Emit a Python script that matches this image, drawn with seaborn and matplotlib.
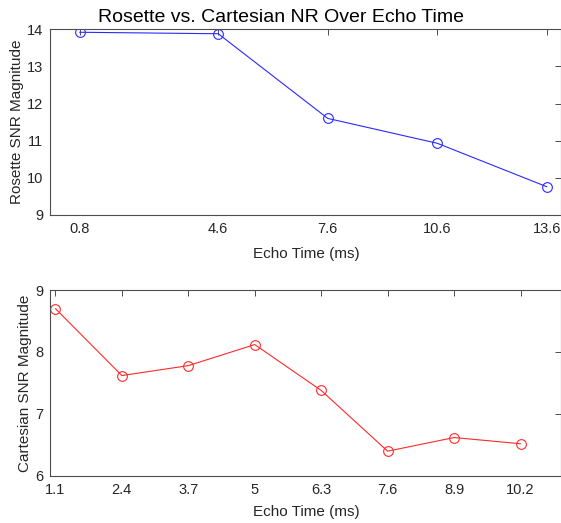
import matplotlib
matplotlib.use("Agg")
import matplotlib.pyplot as plt
import seaborn as sns
import pandas as pd

# Rosette acquisition
rosette_te = [0.8, 4.6, 7.6, 10.6, 13.6]
rosette_snr = [13.92, 13.88, 11.60, 10.93, 9.76]

# Cartesian acquisition
cartesian_te = [1.1, 2.4, 3.7, 5.0, 6.3, 7.6, 8.9, 10.2]
cartesian_snr = [8.70, 7.62, 7.78, 8.12, 7.38, 6.40, 6.62, 6.52]

rosette_ticks = ["0.8", "4.6", "7.6", "10.6", "13.6"]
cartesian_ticks = ["1.1", "2.4", "3.7", "5", "6.3", "7.6", "8.9", "10.2"]

sns.set_style("white")
plt.rcParams["font.family"] = ["Liberation Sans", "DejaVu Sans"]

edge = "#4d4d4d"
text_col = "#262626"

fig = plt.figure(figsize=(5.61, 5.23), dpi=100)
ax1 = fig.add_axes([0.0897, 0.589, 0.911, 0.355])
ax2 = fig.add_axes([0.0897, 0.0899, 0.911, 0.3556])

df_r = pd.DataFrame({"te": rosette_te, "snr": rosette_snr})
df_c = pd.DataFrame({"te": cartesian_te, "snr": cartesian_snr})

sns.lineplot(data=df_r, x="te", y="snr", ax=ax1, color="#2a2aff", lw=0.8,
             marker="o", markersize=7, markerfacecolor="none",
             markeredgecolor="#2a2aff", markeredgewidth=0.8)
sns.lineplot(data=df_c, x="te", y="snr", ax=ax2, color="#ff2a2a", lw=0.8,
             marker="o", markersize=7, markerfacecolor="none",
             markeredgecolor="#ff2a2a", markeredgewidth=0.8)

ax1.set_xlim(0, 14)
ax1.set_ylim(9, 14)
ax1.set_xticks(rosette_te)
ax1.set_xticklabels(rosette_ticks)
ax1.set_yticks([9, 10, 11, 12, 13, 14])

ax2.set_xlim(1, 11)
ax2.set_ylim(6, 9)
ax2.set_xticks(cartesian_te)
ax2.set_xticklabels(cartesian_ticks)
ax2.set_yticks([6, 7, 8, 9])

for ax, ylab, xpad in ((ax1, "Rosette SNR Magnitude", 8),
                       (ax2, "Cartesian SNR Magnitude", 6)):
    for s in ax.spines.values():
        s.set_color(edge)
        s.set_linewidth(0.8)
    ax.tick_params(direction="in", length=4, width=0.7, color=edge,
                   top=True, right=True, labelsize=10.5, labelcolor=text_col,
                   pad=5)
    ax.set_xlabel("Echo Time (ms)", fontsize=11, color=text_col, labelpad=xpad)
    ax.set_ylabel(ylab, fontsize=11, color=text_col, labelpad=2)

fig.text(0.5, 0.982, "Rosette vs. Cartesian NR Over Echo Time",
         ha="center", va="top", fontsize=14, color="black")

fig.savefig("out.png", dpi=100)
